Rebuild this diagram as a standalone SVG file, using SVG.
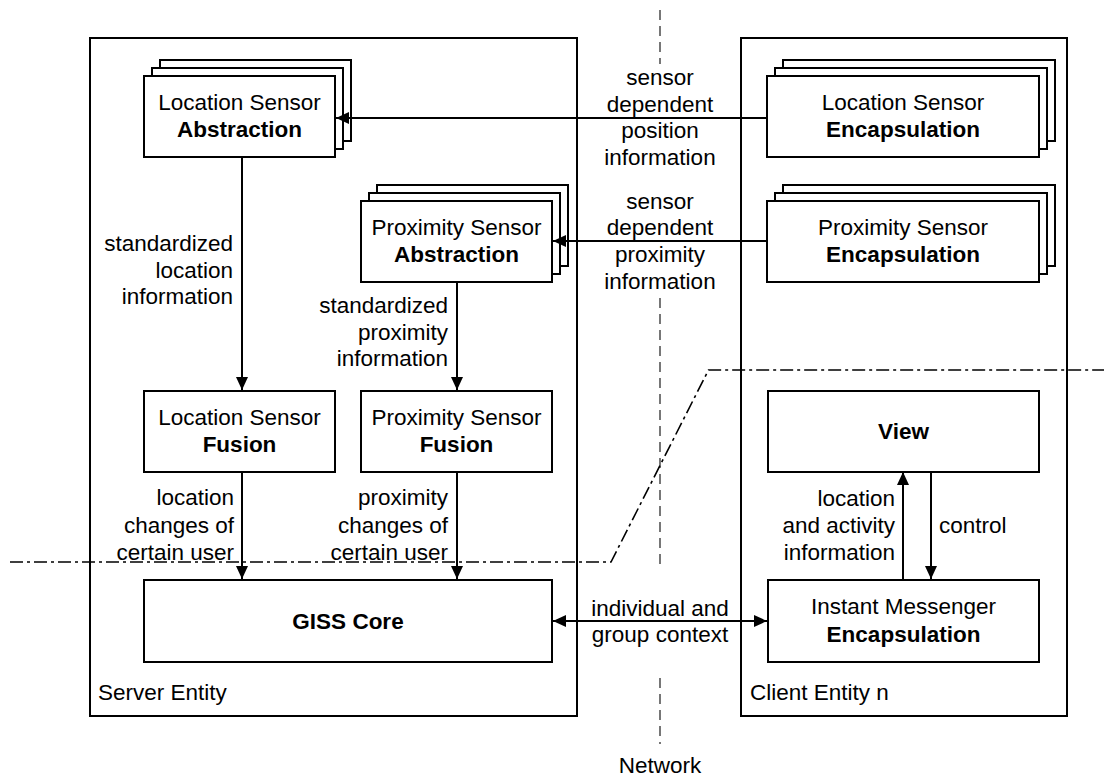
<svg xmlns="http://www.w3.org/2000/svg" width="1104" height="778" viewBox="0 0 1104 778">
<style>
text{font-family:"Liberation Sans",Arial,sans-serif;font-size:22.5px;fill:#000}
.b{font-weight:bold}
.m{text-anchor:middle}
.e{text-anchor:end}
.box{fill:#fff;stroke:#000;stroke-width:2}
.ent{fill:none;stroke:#000;stroke-width:2}
.con{fill:none;stroke:#000;stroke-width:2}
.net{fill:none;stroke:#555;stroke-width:1.6;stroke-dasharray:10 6}
.dd{fill:none;stroke:#000;stroke-width:1.6;stroke-dasharray:13 4 3 4}
</style>
<defs>
<marker id="ah" markerUnits="userSpaceOnUse" markerWidth="14" markerHeight="12" refX="13" refY="6" orient="auto-start-reverse">
<path d="M0,0 L13,6 L0,12 z" fill="#000"/>
</marker>
</defs>

<g id="network">
<path class="net" d="M660,10 V64 M660,298 V566 M660,678 V744"/>
<text class="m" x="660" y="773">Network</text>
</g>

<g id="server-entity">
<rect class="ent" x="90" y="38" width="487" height="678"/>
<text x="98" y="700">Server Entity</text>
</g>
<g id="client-entity">
<rect class="ent" x="741" y="38" width="326" height="678"/>
<text x="750" y="700">Client Entity n</text>
</g>

<g id="loc-abstraction">
<rect class="box" x="160" y="60" width="191" height="81"/>
<rect class="box" x="152" y="68" width="191" height="81"/>
<rect class="box" x="144" y="76" width="191" height="81"/>
<text class="m" x="239.5" y="109.5">Location Sensor</text>
<text class="m b" x="239.5" y="137">Abstraction</text>
</g>

<g id="prox-abstraction">
<rect class="box" x="377" y="185" width="191" height="81"/>
<rect class="box" x="369" y="193" width="191" height="81"/>
<rect class="box" x="361" y="201" width="191" height="81"/>
<text class="m" x="456.5" y="234.5">Proximity Sensor</text>
<text class="m b" x="456.5" y="262">Abstraction</text>
</g>

<g id="loc-fusion">
<rect class="box" x="144" y="391" width="191" height="81"/>
<text class="m" x="239.5" y="424.5">Location Sensor</text>
<text class="m b" x="239.5" y="452">Fusion</text>
</g>

<g id="prox-fusion">
<rect class="box" x="361" y="391" width="191" height="81"/>
<text class="m" x="456.5" y="424.5">Proximity Sensor</text>
<text class="m b" x="456.5" y="452">Fusion</text>
</g>

<g id="giss-core">
<rect class="box" x="144" y="580" width="408" height="82"/>
<text class="m b" x="348" y="629">GISS Core</text>
</g>

<g id="loc-encapsulation">
<rect class="box" x="783" y="60" width="272" height="81"/>
<rect class="box" x="775" y="68" width="272" height="81"/>
<rect class="box" x="767" y="76" width="272" height="81"/>
<text class="m" x="903" y="109.5">Location Sensor</text>
<text class="m b" x="903" y="137">Encapsulation</text>
</g>

<g id="prox-encapsulation">
<rect class="box" x="783" y="185" width="272" height="81"/>
<rect class="box" x="775" y="193" width="272" height="81"/>
<rect class="box" x="767" y="201" width="272" height="81"/>
<text class="m" x="903" y="234.5">Proximity Sensor</text>
<text class="m b" x="903" y="262">Encapsulation</text>
</g>

<g id="view">
<rect class="box" x="768" y="391" width="271" height="81"/>
<text class="m b" x="903.5" y="439">View</text>
</g>

<g id="instant-messenger">
<rect class="box" x="768" y="580" width="271" height="82"/>
<text class="m" x="903.5" y="614">Instant Messenger</text>
<text class="m b" x="903.5" y="641.5">Encapsulation</text>
</g>

<g id="connectors">
<path class="con" d="M767,118 H336" marker-end="url(#ah)"/>
<path class="con" d="M767,241 H553" marker-end="url(#ah)"/>
<path class="con" d="M242,157 V390" marker-end="url(#ah)"/>
<path class="con" d="M457,282 V390" marker-end="url(#ah)"/>
<path class="con" d="M242,472 V579" marker-end="url(#ah)"/>
<path class="con" d="M457,472 V579" marker-end="url(#ah)"/>
<path class="con" d="M553,621 H767" marker-start="url(#ah)" marker-end="url(#ah)"/>
<path class="con" d="M903,580 V472" marker-end="url(#ah)"/>
<path class="con" d="M931,472 V579" marker-end="url(#ah)"/>

<text class="m" x="660" y="85">sensor</text>
<text class="m" x="660" y="111.5">dependent</text>
<text class="m" x="660" y="138">position</text>
<text class="m" x="660" y="164.5">information</text>

<text class="m" x="660" y="208.5">sensor</text>
<text class="m" x="660" y="235">dependent</text>
<text class="m" x="660" y="262">proximity</text>
<text class="m" x="660" y="289">information</text>

<text class="e" x="233" y="251">standardized</text>
<text class="e" x="233" y="277.5">location</text>
<text class="e" x="233" y="304">information</text>

<text class="e" x="448" y="313">standardized</text>
<text class="e" x="448" y="339.5">proximity</text>
<text class="e" x="448" y="366">information</text>

<text class="e" x="234" y="505">location</text>
<text class="e" x="234" y="532.5">changes of</text>
<text class="e" x="234" y="559.5">certain user</text>

<text class="e" x="448" y="505">proximity</text>
<text class="e" x="448" y="532.5">changes of</text>
<text class="e" x="448" y="559.5">certain user</text>

<text class="e" x="895" y="505.5">location</text>
<text class="e" x="895" y="533">and activity</text>
<text class="e" x="895" y="560">information</text>

<text x="939" y="533">control</text>

<text class="m" x="660" y="616">individual and</text>
<text class="m" x="660" y="642">group context</text>
</g>

<g id="boundary">
<path class="dd" d="M10,562 H611 L708.5,370 H1104"/>
</g>
</svg>
